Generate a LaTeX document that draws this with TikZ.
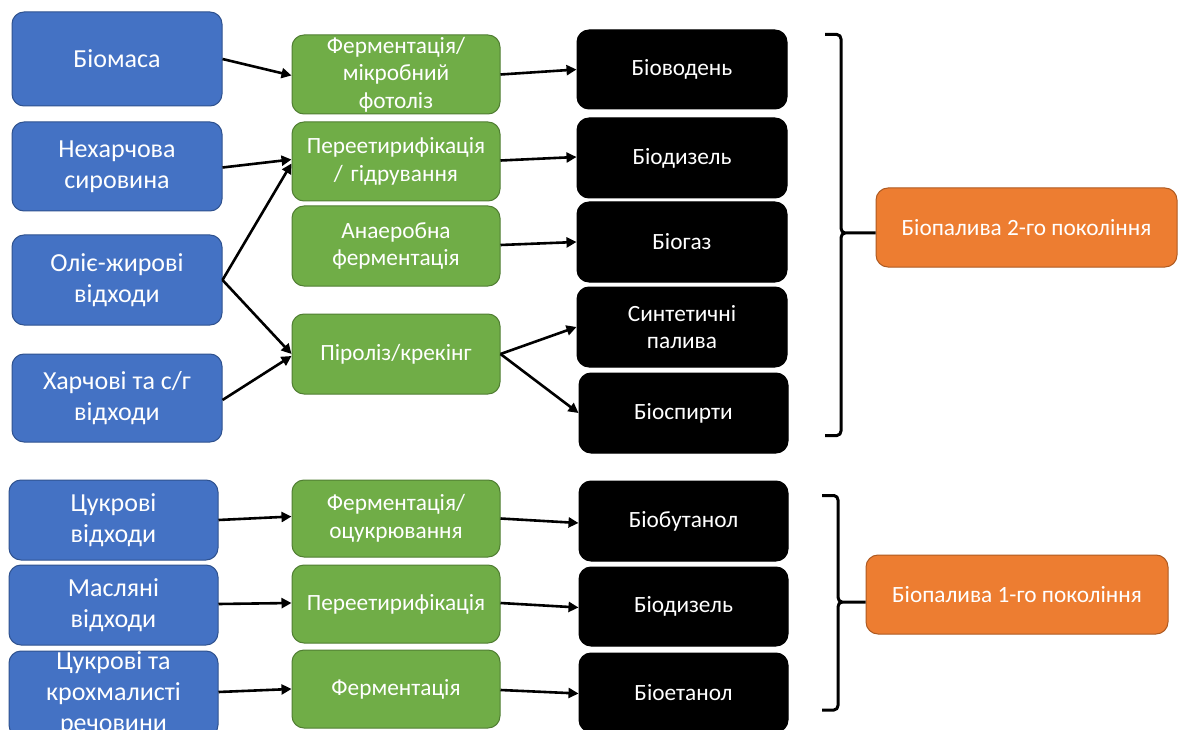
\documentclass[tikz,border=0pt]{standalone}
\usepackage{fontspec}
\setmainfont{Carlito}
\usetikzlibrary{arrows.meta,calc}
\definecolor{cblue}{HTML}{4472C4}
\definecolor{cbluedk}{HTML}{2F528F}
\definecolor{cgreen}{HTML}{70AD47}
\definecolor{cgreendk}{HTML}{507E32}
\definecolor{corange}{HTML}{ED7D31}
\definecolor{corangedk}{HTML}{AE5A21}
\tikzset{
  basebox/.style={rounded corners=12pt, line width=1pt, text=white, align=center, inner sep=1pt},
  bluebox/.style={basebox, fill=cblue, draw=cbluedk, minimum width=210pt, font=\fontsize{26}{31}\selectfont},
  greenbox/.style={basebox, fill=cgreen, draw=cgreendk, minimum width=208pt, text width=204pt, font=\fontsize{23.3}{27.5}\selectfont},
  blackbox/.style={basebox, fill=black, draw=black, minimum width=210pt, font=\fontsize{23.3}{27}\selectfont},
  orangebox/.style={basebox, fill=corange, draw=corangedk, minimum width=301pt, minimum height=79pt, font=\fontsize{23.3}{27}\selectfont},
  conn/.style={line width=2.6pt, -{Triangle[length=10pt,width=10pt]}},
  bracket/.style={line width=3pt, line join=round}
}
\begin{document}
\begin{tikzpicture}[x=1pt,y=-1pt]
\clip (0,0) rectangle (1178,730);
\fill[white] (0,0) rectangle (1178,730);
% blue sources
\node[bluebox, minimum height=94pt] (b1) at (117,59) {Біомаса};
\node[bluebox, minimum height=89pt] (b2) at (117,166.5) {Нехарчова\\сировина};
\node[bluebox, minimum height=90pt] (b3) at (117,280) {Оліє-жирові\\відходи};
\node[bluebox, minimum height=88pt] (b4) at (117,398) {Харчові та с/г\\відходи};
\node[bluebox, minimum width=209pt, minimum height=80pt] (b5) at (113.5,520) {Цукрові\\відходи};
\node[bluebox, minimum width=209pt, minimum height=80pt] (b6) at (113.5,605) {Масляні\\відходи};
\node[bluebox, minimum width=209pt, minimum height=86pt, inner sep=0pt] (b7) at (113.5,694) {Цукрові та\\крохмалисті\\речовини};
% green processes
\node[greenbox, minimum height=79pt] (g1) at (396,74.5) {Ферментація/\\мікробний\\фотоліз};
\node[greenbox, minimum height=79pt] (g2) at (396,161.5) {Переетирифікація\\/ гідрування};
\node[greenbox, minimum height=80pt] (g3) at (396,246) {Анаеробна\\ферментація};
\node[greenbox, minimum height=80pt] (g4) at (396,354) {Піроліз/крекінг};
\node[greenbox, minimum height=77pt] (g5) at (396,518.5) {Ферментація/\\оцукрювання};
\node[greenbox, minimum height=78pt] (g6) at (396,604) {Переетирифікація};
\node[greenbox, minimum height=78pt] (g7) at (396,689) {Ферментація};
% black products
\node[blackbox, minimum height=79pt] (k1) at (682,69.5) {Біоводень};
\node[blackbox, minimum height=80pt] (k2) at (682,158) {Біодизель};
\node[blackbox, minimum height=80pt] (k3) at (682,242) {Біогаз};
\node[blackbox, minimum height=80pt] (k4) at (682,327) {Синтетичні\\палива};
\node[blackbox, minimum width=209pt, minimum height=80pt] (k5) at (683.5,413) {Біоспирти};
\node[blackbox, minimum width=209pt, minimum height=80pt] (k6) at (683.5,521) {Біобутанол};
\node[blackbox, minimum width=209pt, minimum height=79pt] (k7) at (683.5,606.5) {Біодизель};
\node[blackbox, minimum width=209pt, minimum height=79pt] (k8) at (683.5,692.5) {Біоетанол};
% orange generations
\node[orangebox] (o2) at (1026.5,227.5) {Біопалива 2-го покоління};
\node[orangebox, minimum width=302pt] (o1) at (1017,594.5) {Біопалива 1-го покоління};
% connectors: sources -> processes
\draw[conn] ($(b1.east)+(0,0)$) -- ($(g1.west)+(0,1)$);
\draw[conn] ($(b2.east)+(0,1)$) -- ($(g2.west)+(0,-2)$);
\draw[conn] (b3.east) -- ($(g2.west)+(0,2)$);
\draw[conn] (b3.east) -- ($(g4.west)+(0,0)$);
\draw[conn] ($(b4.east)+(0,2)$) -- ($(g4.west)+(0,2)$);
\draw[conn] (b5.east) -- ($(g5.west)+(0,-2)$);
\draw[conn] ($(b6.east)+(0,-1)$) -- ($(g6.west)+(0,-1)$);
\draw[conn] ($(b7.east)+(0,-2)$) -- ($(g7.west)+(0,0)$);
% processes -> products
\draw[conn] ($(g1.east)+(0,0)$) -- ($(k1.west)+(0,0)$);
\draw[conn] ($(g2.east)+(0,-1)$) -- ($(k2.west)+(0,-1)$);
\draw[conn] ($(g3.east)+(0,-1)$) -- ($(k3.west)+(0,0)$);
\draw[conn] (g4.east) -- (k4.west);
\draw[conn] (g4.east) -- (k5.west);
\draw[conn] ($(g5.east)+(0,0)$) -- ($(k6.west)+(0,2)$);
\draw[conn] ($(g6.east)+(0,-1)$) -- ($(k7.west)+(0,1)$);
\draw[conn] ($(g7.east)+(0,1)$) -- ($(k8.west)+(0,1)$);
% brackets
\coordinate (t2) at (825,34.5);
\coordinate (e2) at (825,435.5);
\draw[bracket] (t2) -- (837,34.5) to[out=0,in=90] (841,39) -- (841,228) to[out=-90,in=180] (845,233) -- (o2.west |- 0,233);
\draw[bracket] (e2) -- (837,435.5) to[out=0,in=-90] (841,431) -- (841,238) to[out=90,in=180] (845,233);
\coordinate (t1) at (822,495.5);
\coordinate (e1) at (822,710);
\draw[bracket] (t1) -- (834,495.5) to[out=0,in=90] (838,500) -- (838,597) to[out=-90,in=180] (842,602) -- (o1.west |- 0,602);
\draw[bracket] (e1) -- (834,710) to[out=0,in=-90] (838,705.5) -- (838,607) to[out=90,in=180] (842,602);
\end{tikzpicture}
\end{document}
